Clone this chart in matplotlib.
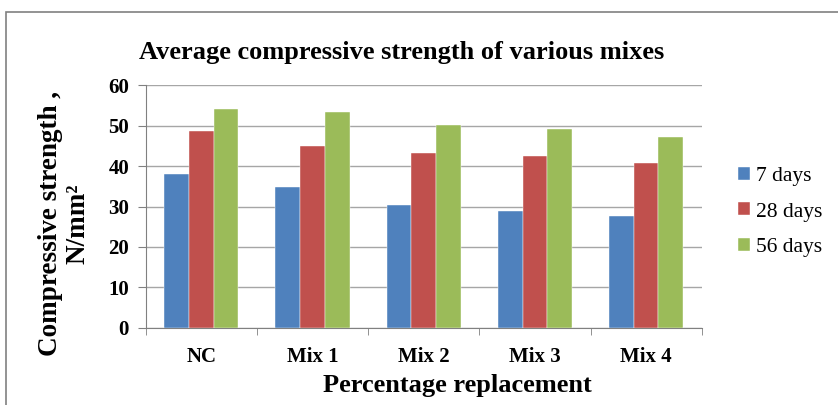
import numpy as np
import matplotlib
matplotlib.use("Agg")
import matplotlib.pyplot as plt
from matplotlib.patches import Rectangle

categories = ["NC", "Mix 1", "Mix 2", "Mix 3", "Mix 4"]
days_7 = [38.1, 34.9, 30.3, 28.8, 27.6]
days_28 = [48.6, 45.0, 43.3, 42.5, 40.7]
days_56 = [54.2, 53.5, 50.1, 49.1, 47.1]
series_labels = ["7 days", "28 days", "56 days"]
colors = ["#4F81BD", "#C0504D", "#9BBB59"]

plt.rcParams["font.family"] = ["Liberation Serif", "DejaVu Serif"]

fig = plt.figure(figsize=(8.38, 4.05), dpi=100)
ax = fig.add_axes([145.7 / 838, 1 - 327.7 / 405, (701.7 - 145.7) / 838, (327.7 - 85.3) / 405])

# outer chart border
fig.patches.append(Rectangle((6 / 838, -0.02), 1.1, 1 - 12 / 405 + 0.02, transform=fig.transFigure,
                             fill=False, edgecolor="#808080", linewidth=1.2))

x = np.arange(len(categories))
w = 0.223
for i, (vals, lab, c) in enumerate(zip([days_7, days_28, days_56], series_labels, colors)):
    ax.bar(x + (i - 1) * w, vals, w, color=c, label=lab, edgecolor="white", linewidth=0.3, zorder=3)

ax.set_xlim(-0.5, len(categories) - 0.5)
ax.set_ylim(0, 60)
ax.set_yticks(range(0, 61, 10))
ax.yaxis.grid(True, color="#A6A6A6", linewidth=1.0, zorder=0)
ax.set_axisbelow(True)

ax.set_xticks(x)
ax.set_xticklabels(categories, fontsize=15, fontweight="bold")
ax.set_xticks(np.arange(-0.5, len(categories), 1), minor=True)
ax.tick_params(axis="x", which="major", length=0, pad=14)
ax.tick_params(axis="x", which="minor", length=5, color="#808080")
ax.tick_params(axis="y", length=6, color="#808080", labelsize=15, pad=6)
for t in ax.get_yticklabels():
    t.set_fontweight("bold")

for s in ["top", "right"]:
    ax.spines[s].set_visible(False)
for s in ["left", "bottom"]:
    ax.spines[s].set_color("#808080")

ax.set_xlabel("Percentage replacement", fontsize=19, fontweight="bold")
ax.xaxis.set_label_coords(0.56, -0.19)
ax.set_ylabel("Compressive strength ,\nN/mm²", fontsize=19.5, fontweight="bold", linespacing=1.1)
ax.yaxis.set_label_coords(-0.10, 0.43)
fig.text(402 / 838, 1 - 52 / 405, "Average compressive strength of various mixes",
         ha="center", va="center", fontsize=19, fontweight="bold")

ax.legend(loc="center left", bbox_to_anchor=(738 / 838, 1 - 212 / 405), bbox_transform=fig.transFigure,
          frameon=False, fontsize=15.5, handlelength=0.55, handleheight=0.55, handletextpad=0.3,
          labelspacing=0.75, borderpad=0, borderaxespad=0)

fig.savefig("out.png", dpi=100)
